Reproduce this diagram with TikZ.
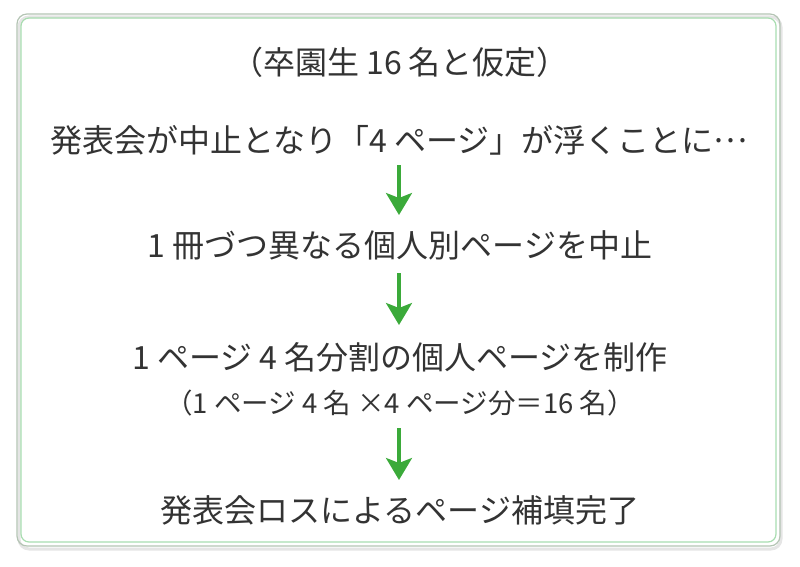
\documentclass[tikz,border=0pt]{standalone}
\usepackage{fontspec}
\usepackage{xcolor}
\usepackage{tikz}
\usetikzlibrary{arrows.meta}
\newfontfamily\jpfont{Noto Sans CJK JP}
\definecolor{textgray}{HTML}{333333}
\definecolor{arrowgreen}{HTML}{3BAA3A}
\definecolor{framegray}{HTML}{B4C4B4}
\definecolor{framegreen}{HTML}{A8DDB0}

\begin{document}
\begin{tikzpicture}[x=1pt,y=-1pt,thick]
			
			\tikzstyle{line} = [font=\jpfont\fontsize{32}{38}\selectfont,text=textgray,inner sep=2pt]
			\tikzstyle{note} = [font=\jpfont\fontsize{27.5}{32}\selectfont,text=textgray,inner sep=2pt]
			\tikzstyle{down} = [draw=arrowgreen,line width=3.2pt,-{Stealth[length=22pt,width=26pt,inset=5pt]}]
			
			\useasboundingbox (0,0) rectangle (800,567);
			
			% frame
			\draw[black!10,line width=3pt,rounded corners=10pt] (19,17) rectangle (781,549);
			\draw[framegray,line width=1.2pt,rounded corners=10pt] (17,14) rectangle (780,546);
			\draw[framegreen,line width=1.2pt,rounded corners=8pt] (21,18) rectangle (776,542);
			\draw[white,fill=white,rounded corners=7pt] (22.5,19.5) rectangle (774.5,540.5);
			
			\node[line] (head) at (400,62) {（卒園生 16 名と仮定）};
			\node[line] (loss) at (399,140) {発表会が中止となり「4 ページ」が浮くことに\raisebox{0.3em}{…}};
			\node[line] (stop) at (400,245) {1 冊づつ異なる個人別ページを中止};
			\node[line] (make) at (400,357) {1 ページ 4 名分割の個人ページを制作};
			\node[note] (calc) at (400,403) {（1 ページ 4 名 ×4 ページ分＝16 名）};
			\node[line] (done) at (400,510) {発表会ロスによるページ補填完了};
			
			% arrows
			\coordinate (a1) at (399,165);
			\coordinate (b1) at (399,215);
			\coordinate (a2) at (399,273);
			\coordinate (b2) at (399,325);
			\coordinate (a3) at (399,428);
			\coordinate (b3) at (399,480);
			\draw[down] (a1) -- (b1);
			\draw[down] (a2) -- (b2);
			\draw[down] (a3) -- (b3);
			
		\end{tikzpicture}
\end{document}
